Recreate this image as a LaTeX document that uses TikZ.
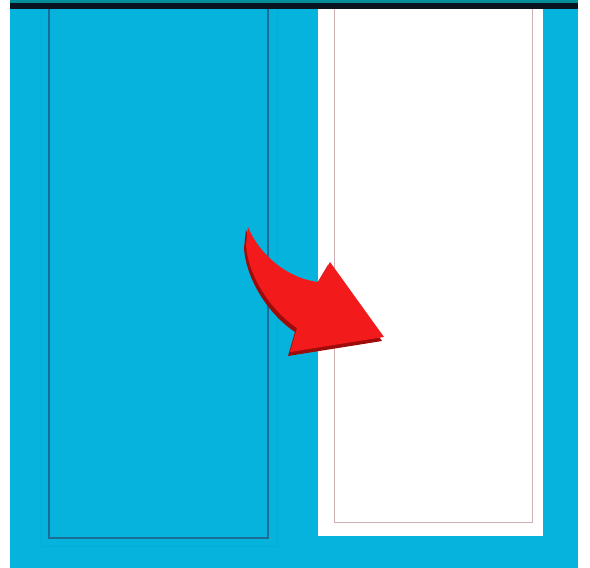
\documentclass[tikz,border=0pt]{standalone}
\definecolor{skyblue}{HTML}{05B3DC}
\definecolor{panelline}{HTML}{1C6C98}
\definecolor{topbar}{HTML}{0A1420}
\definecolor{arrowred}{HTML}{F21A1A}
\definecolor{arrowdark}{HTML}{9E0B0B}
\begin{document}
\begin{tikzpicture}[x=1pt,y=-1pt]
\useasboundingbox (0,0) rectangle (590,568);
% background
\fill[skyblue] (10,0) rectangle (578,568);
\fill[teal!70!skyblue] (10,0) rectangle (578,3);
\fill[topbar] (10,3) rectangle (578,9);
% left panel
\draw[skyblue!90!black,opacity=.3,line width=1pt] (41,9) -- (41,546) -- (277,546) -- (277,9);
\draw[panelline,line width=1.2pt] (49,9) -- (49,538) -- (268,538) -- (268,9);
% right panel
\fill[white] (318,9) rectangle (543,536);
\draw[red!25!gray!50,line width=0.6pt] (334,9) -- (334,522) -- (532,522) -- (532,9);
% arrow
\fill[arrowdark] (246,230) .. controls (256,255) and (283,281) .. (316,285) -- (328,265) -- (382,341)
  -- (288,356) -- (295,332) .. controls (268,314) and (246,279) .. (244,248) -- cycle;
\fill[arrowred] (248,227) .. controls (258,252) and (285,278) .. (318,282) -- (330,262) -- (384,337)
  -- (290,352) -- (297,328) .. controls (270,310) and (248,275) .. (246,245) -- cycle;
\end{tikzpicture}
\end{document}
